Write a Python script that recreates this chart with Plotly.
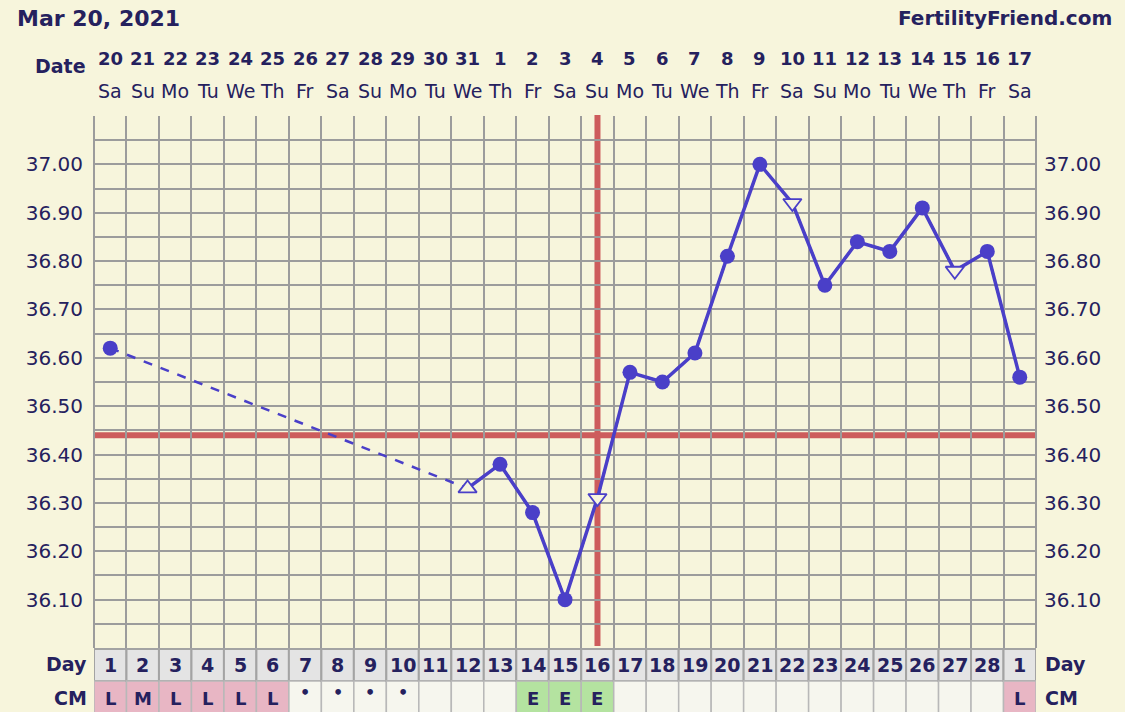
import plotly.graph_objects as go

# ---------------- data ----------------
chart_date = "Mar 20, 2021"
site = "FertilityFriend.com"
dates = ["20", "21", "22", "23", "24", "25", "26", "27", "28", "29", "30", "31",
         "1", "2", "3", "4", "5", "6", "7", "8", "9", "10", "11", "12", "13",
         "14", "15", "16", "17"]
weekdays = ["Sa", "Su", "Mo", "Tu", "We", "Th", "Fr", "Sa", "Su", "Mo", "Tu", "We",
            "Th", "Fr", "Sa", "Su", "Mo", "Tu", "We", "Th", "Fr", "Sa", "Su", "Mo",
            "Tu", "We", "Th", "Fr", "Sa"]
cycle_days = ["1", "2", "3", "4", "5", "6", "7", "8", "9", "10", "11", "12", "13",
              "14", "15", "16", "17", "18", "19", "20", "21", "22", "23", "24", "25",
              "26", "27", "28", "1"]
temps = [36.62, None, None, None, None, None, None, None, None, None, None, 36.33,
         36.38, 36.28, 36.10, 36.31, 36.57, 36.55, 36.61, 36.81, 37.00, 36.92,
         36.75, 36.84, 36.82, 36.91, 36.78, 36.82, 36.56]
# reading kind: "n" normal, "up" / "down" = discarded/flagged readings
kinds = ["n", "", "", "", "", "", "", "", "", "", "", "up",
         "n", "n", "n", "down", "n", "n", "n", "n", "n", "down",
         "n", "n", "n", "n", "down", "n", "n"]
cm = ["L", "M", "L", "L", "L", "L", "*", "*", "*", "*", "", "", "",
      "E", "E", "E", "", "", "", "", "", "", "", "", "", "", "", "", "L"]
coverline = 36.44
ovulation_col = 16
y_labels = [36.10, 36.20, 36.30, 36.40, 36.50, 36.60, 36.70, 36.80, 36.90, 37.00]

# ---------------- styling ----------------
BG = "#f7f5dc"
GRID = "#9c9c9c"
LINE = "#4a3fc8"
TXT = "#25215e"
RED = "#cd5c5c"
FONT = "DejaVu Sans"

W, H = 1125, 712
L, R, T, B = 94, 1036, 116, 648
ncol = len(dates)
cols = list(range(1, ncol + 1))


def px(x):
    return (x - L) / (R - L)


def py(y):
    return (B - y) / (B - T)


fig = go.Figure()

# dashed connection across gaps
fig.add_trace(go.Scatter(x=cols, y=temps, mode="lines", connectgaps=True,
                         line=dict(color=LINE, width=2.5, dash="dash"),
                         hoverinfo="skip", showlegend=False))
# solid connection
fig.add_trace(go.Scatter(x=cols, y=temps, mode="lines", connectgaps=False,
                         line=dict(color=LINE, width=3.5),
                         hoverinfo="skip", showlegend=False))
# markers
sym_map = {"n": "circle", "up": "triangle-up", "down": "triangle-down"}
mx = [c for c, t in zip(cols, temps) if t is not None]
my = [t for t in temps if t is not None]
mk = [k for k, t in zip(kinds, temps) if t is not None]
fig.add_trace(go.Scatter(
    x=mx, y=my, mode="markers", showlegend=False,
    marker=dict(symbol=[sym_map[k] for k in mk], opacity=1,
                size=[15 if k == "n" else 16 for k in mk],
                color=[LINE if k == "n" else BG for k in mk],
                line=dict(color=LINE, width=[0 if k == "n" else 1.8 for k in mk]))))
# invisible trace on right axis
fig.add_trace(go.Scatter(x=mx, y=my, yaxis="y2", mode="markers",
                         marker=dict(opacity=0), hoverinfo="skip", showlegend=False))

grid_vals = [round(36.0 + 0.05 * i, 2) for i in range(23)]
grid_text = ["%.2f" % v if any(abs(v - l) < 1e-6 for l in y_labels) else "" for v in grid_vals]

fig.update_layout(
    width=W, height=H,
    margin=dict(l=L, r=W - R, t=T, b=H - B, pad=0),
    paper_bgcolor=BG, plot_bgcolor=BG,
    font=dict(family=FONT, color=TXT),
    xaxis=dict(range=[0.5, ncol + 0.5], tickvals=[i + 0.5 for i in range(ncol + 1)],
               showticklabels=False, showgrid=True, gridcolor=GRID, gridwidth=2,
               zeroline=False, showline=False, ticks="", fixedrange=True),
    yaxis=dict(range=[36.0, 37.1], tickvals=grid_vals, ticktext=grid_text,
               showgrid=True, gridcolor=GRID, gridwidth=2, zeroline=False,
               ticks="", tickfont=dict(size=20, color=TXT, family=FONT),
               ticklabelstandoff=10, fixedrange=True),
    yaxis2=dict(range=[36.0, 37.1], overlaying="y", side="right", matches="y",
                tickvals=grid_vals, ticktext=grid_text, showgrid=False,
                zeroline=False, ticks="", tickfont=dict(size=20, color=TXT, family=FONT),
                ticklabelstandoff=7, fixedrange=True),
)

shapes = []
# plot border left/right
shapes.append(dict(type="line", xref="paper", yref="paper", x0=0, x1=0, y0=0, y1=1,
                   line=dict(color=GRID, width=2)))
shapes.append(dict(type="line", xref="paper", yref="paper", x0=1, x1=1, y0=0, y1=1,
                   line=dict(color=GRID, width=2)))
# coverline
shapes.append(dict(type="line", xref="paper", yref="y", x0=0, x1=1, y0=coverline,
                   y1=coverline, line=dict(color=RED, width=6), layer="below"))
# ovulation line
shapes.append(dict(type="line", xref="x", yref="paper", x0=ovulation_col, x1=ovulation_col,
                   y0=py(646), y1=py(115), line=dict(color=RED, width=6), layer="below"))

annotations = []
annotations.append(dict(text="<b>%s</b>" % chart_date, xref="paper", yref="paper",
                        x=px(15), y=py(18), xanchor="left", yanchor="middle",
                        showarrow=False, font=dict(size=22, color=TXT)))
annotations.append(dict(text="<b>%s</b>" % site, xref="paper", yref="paper",
                        x=px(1114), y=py(18), xanchor="right", yanchor="middle",
                        showarrow=False, font=dict(size=20, color=TXT)))
annotations.append(dict(text="<b>Date</b>", xref="paper", yref="paper",
                        x=px(88), y=py(66), xanchor="right", yanchor="middle",
                        showarrow=False, font=dict(size=19, color=TXT)))

for c, d, wd in zip(cols, dates, weekdays):
    annotations.append(dict(text="<b>%s</b>" % d, xref="x", yref="paper", x=c, y=py(59),
                            xanchor="center", yanchor="middle", showarrow=False,
                            font=dict(size=18, color=TXT)))
    annotations.append(dict(text=wd, xref="x", yref="paper", x=c, y=py(91),
                            xanchor="center", yanchor="middle", showarrow=False,
                            font=dict(size=19, color=TXT)))

# bottom table
DAY0, DAY1, CM0, CM1 = 649, 681, 681, 714
cm_fill = {"L": "#e8b6c4", "M": "#e8b6c4", "E": "#b4e3a0"}
for c, cd, m in zip(cols, cycle_days, cm):
    shapes.append(dict(type="rect", xref="x", yref="paper", x0=c - 0.5, x1=c + 0.5,
                       y0=py(DAY1), y1=py(DAY0), fillcolor="#e4e4e4",
                       line=dict(color="#a3a3a3", width=2)))
    shapes.append(dict(type="rect", xref="x", yref="paper", x0=c - 0.5, x1=c + 0.5,
                       y0=py(CM1), y1=py(CM0), fillcolor=cm_fill.get(m, "#f6f6ee"),
                       line=dict(color="#b8b8b8", width=1.5)))
    annotations.append(dict(text="<b>%s</b>" % cd, xref="x", yref="paper", x=c, y=py(665),
                            xanchor="center", yanchor="middle", showarrow=False,
                            font=dict(size=19, color=TXT)))
    if m:
        txt = "<b>•</b>" if m == "*" else "<b>%s</b>" % m
        annotations.append(dict(text=txt, xref="x", yref="paper", x=c,
                                y=py(692 if m == "*" else 698),
                                xanchor="center", yanchor="middle", showarrow=False,
                                font=dict(size=16 if m == "*" else 18, color=TXT)))

for label, yy in [("Day", 664), ("CM", 698)]:
    annotations.append(dict(text="<b>%s</b>" % label, xref="paper", yref="paper",
                            x=px(89), y=py(yy), xanchor="right", yanchor="middle",
                            showarrow=False, font=dict(size=19, color=TXT)))
    annotations.append(dict(text="<b>%s</b>" % label, xref="paper", yref="paper",
                            x=px(1043), y=py(yy), xanchor="left", yanchor="middle",
                            showarrow=False, font=dict(size=19, color=TXT)))

fig.update_layout(shapes=shapes, annotations=annotations)
fig.write_html("out.html", config={"displayModeBar": False},
               post_script="document.body.style.margin='0';document.body.style.overflow='hidden';")
